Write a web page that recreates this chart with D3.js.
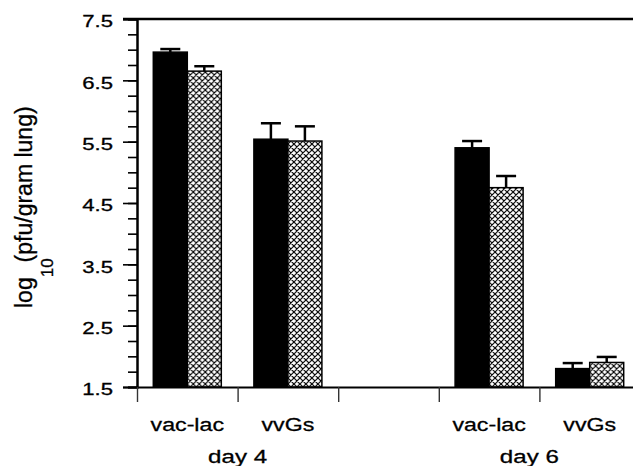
<!DOCTYPE html>
<html>
<head>
<meta charset="utf-8">
<script src="https://cdn.jsdelivr.net/npm/d3@7"></script>
<style>
  body { margin: 0; background: #fff; }
  svg { display: block; font-family: "Liberation Sans", Arial, Helvetica, sans-serif; }
  svg text { fill: #000; stroke: #000; stroke-width: 0.3px; }
</style>
</head>
<body>
<div id="graph-container"></div>
<script>
// groups along the x axis (one empty slot between the two days)
var groups = ['d4-vac', 'd4-vvgs', 'gap', 'd6-vac', 'd6-vvgs'];
var group_labels = ['vac-lac', 'vvGs', '', 'vac-lac', 'vvGs'];
var day_labels = ['day 4', 'day 6'];
var day_label_at = [1.0, 3.9];   // in band units

// log10 pfu / gram lung
var solid_values = [6.96, 5.54, null, 5.40, 1.80];
var solid_errors = [0.05, 0.26, null, 0.11, 0.09];
var hatched_values = [6.65, 5.51, null, 4.75, 1.90];
var hatched_errors = [0.08, 0.24, null, 0.19, 0.09];

var y_major = [1.5, 2.5, 3.5, 4.5, 5.5, 6.5, 7.5];
var y_minor = d3.range(1.5, 7.51, 0.25);

/////////////////////////////////////////////////////////////////////////////
                      ///////    Set Up Chart    ///////
/////////////////////////////////////////////////////////////////////////////

var W = 633, H = 466;
var plot = {left: 137, top: 19, bottom: 387, right: 640};

var svg = d3.select('#graph-container').append('svg')
    .attr('width', W).attr('height', H);

var defs = svg.append('defs');
var hatch = defs.append('pattern')
    .attr('id', 'hatch')
    .attr('patternUnits', 'userSpaceOnUse')
    .attr('width', 6).attr('height', 6);
hatch.append('rect').attr('width', 6).attr('height', 6).attr('fill', '#fff');
hatch.append('path')
    .attr('d', 'M0,0L6,6M6,0L0,6M-1,5L1,7M5,-1L7,1M-1,1L1,-1M5,7L7,5')
    .attr('stroke', '#000').attr('stroke-width', 1.2);

var y = d3.scaleLinear().domain([1.5, 7.5]).range([plot.bottom, plot.top]);
var x = d3.scaleBand().domain(groups).range([plot.left, plot.right]);
var x_edge = d3.scaleLinear().domain([0, groups.length]).range([plot.left, plot.right]);
var bar_w = 34;
var inner = d3.scaleBand().domain(['solid', 'hatched']).range([-bar_w, bar_w]);

var rows = groups.map((g, i) => ({
    id: g,
    bars: [
        {series: 'solid', v: solid_values[i], e: solid_errors[i]},
        {series: 'hatched', v: hatched_values[i], e: hatched_errors[i]}
    ].filter(b => b.v != null)
}));

// top frame line
svg.append('line')
    .attr('x1', plot.left - 14).attr('x2', W)
    .attr('y1', plot.top).attr('y2', plot.top)
    .attr('stroke', '#000').attr('stroke-width', 2.5);

// bars
var grp = svg.selectAll('.grp').data(rows).enter()
    .append('g').attr('class', 'grp')
    .attr('transform', d => `translate(${x(d.id) + x.bandwidth() / 2},0)`);

grp.selectAll('.bar').data(d => d.bars).enter()
    .append('rect')
    .attr('class', 'bar')
    .attr('x', d => inner(d.series))
    .attr('width', inner.bandwidth())
    .attr('y', d => y(d.v))
    .attr('height', d => y(1.5) - y(d.v))
    .attr('fill', d => d.series == 'solid' ? '#000' : 'url(#hatch)')
    .attr('stroke', '#000').attr('stroke-width', 1.5);

// error bars
var err = grp.selectAll('.err').data(d => d.bars).enter()
    .append('g').attr('class', 'err')
    .attr('stroke', '#000').attr('stroke-width', 2.5);
err.append('line')
    .attr('x1', d => inner(d.series) + inner.bandwidth() / 2)
    .attr('x2', d => inner(d.series) + inner.bandwidth() / 2)
    .attr('y1', d => y(d.v)).attr('y2', d => y(d.v + d.e));
err.append('line')
    .attr('x1', d => inner(d.series) + inner.bandwidth() / 2 - 10)
    .attr('x2', d => inner(d.series) + inner.bandwidth() / 2 + 10)
    .attr('y1', d => y(d.v + d.e)).attr('y2', d => y(d.v + d.e));

// y axis
var y_minor_axis = svg.append('g')
    .attr('transform', `translate(${plot.left},0)`)
    .call(d3.axisLeft(y).tickValues(y_minor).tickSize(9).tickFormat(''));
var y_axis = svg.append('g')
    .attr('transform', `translate(${plot.left},0)`)
    .call(d3.axisLeft(y).tickValues(y_major).tickSize(14).tickFormat(d3.format('.1f')));
y_axis.selectAll('text')
    .attr('x', 0).attr('dy', null).attr('y', 7.9)
    .attr('transform', 'translate(-24,0) scale(1.38,1)')
    .style('font-size', '16px')
    .attr('font-family', null);

// x axis (ticks at the band edges)
var x_axis = svg.append('g')
    .attr('transform', `translate(0,${plot.bottom})`)
    .call(d3.axisBottom(x_edge).tickValues(d3.range(groups.length)).tickSize(15).tickSizeOuter(0).tickFormat(''));

[y_minor_axis, y_axis, x_axis].forEach(a => {
    a.select('.domain').attr('stroke', '#000').attr('stroke-width', 2);
    a.selectAll('.tick line').attr('stroke', '#000').attr('stroke-width', 1.6);
});
x_axis.selectAll('.tick line').attr('stroke', '#333').attr('stroke-width', 1.4);

// category labels
svg.selectAll('.cat').data(groups).enter()
    .append('text').attr('class', 'cat')
    .attr('transform', d => `translate(${x(d) + x.bandwidth() / 2},431) scale(1.22,1)`)
    .attr('text-anchor', 'middle')
    .style('font-size', '19px')
    .text((d, i) => group_labels[i]);

svg.selectAll('.day').data(day_labels).enter()
    .append('text').attr('class', 'day')
    .attr('transform', (d, i) => `translate(${x_edge(day_label_at[i])},463) scale(1.27,1)`)
    .attr('text-anchor', 'middle')
    .style('font-size', '19px')
    .text(d => d);

// y title with subscript
var title = svg.append('text')
    .attr('transform', 'translate(32,308) rotate(-90)')
    .style('font-size', '23px');
title.append('tspan').text('log');
title.append('tspan').attr('dy', 21).style('font-size', '17px').text('10');
title.append('tspan').attr('dy', -21).attr('dx', -4).text('(pfu/gram lung)');
</script>
</body>
</html>
